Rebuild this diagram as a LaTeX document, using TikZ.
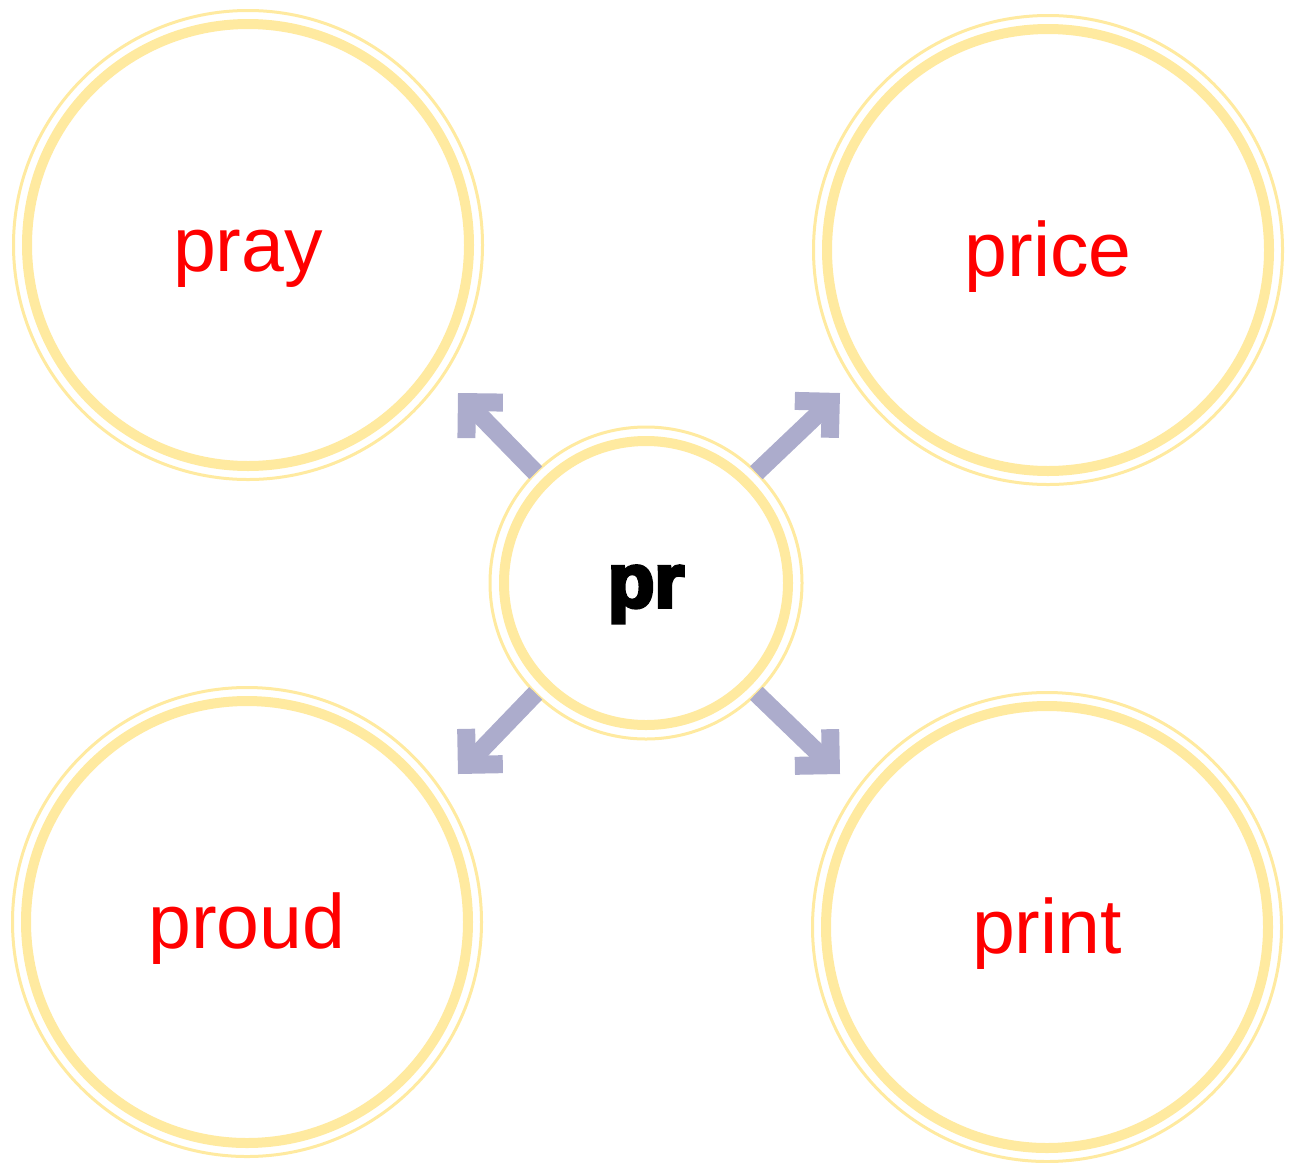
\documentclass[tikz,border=0pt]{standalone}
\usepackage{fontspec}
\setmainfont{Liberation Sans}
\newfontfamily\heavyfont{Liberation Sans Bold}[FakeBold=5]
\usetikzlibrary{arrows.meta}
\definecolor{ring}{RGB}{255,234,160}
\definecolor{lilac}{RGB}{172,172,204}
\definecolor{wordred}{RGB}{255,0,0}

\begin{document}
\begin{tikzpicture}[x=0.5pt,y=-0.5pt,
  word/.style={circle, draw=ring, line width=5pt, fill=white, minimum size=221pt,
    inner sep=0pt, text=wordred, font=\fontsize{38.5}{46}\selectfont,
    text height=26.5pt, text depth=0pt},
  hub/.style={circle, draw=ring, line width=5pt, fill=white, minimum size=142pt,
    inner sep=0pt, outer sep=7pt, font=\heavyfont\fontsize{38}{46}\selectfont,
    text height=24pt, text depth=0pt},
  halo/.style={draw=ring, line width=1.5pt},
  spoke/.style={lilac, line width=9pt, -{Straight Barb[angle=90:18pt, sharp]}}]
  \useasboundingbox (0,0) rectangle (1289,1162);
  %% Word circles
  \node[word] (pray)  at (248,245)  {pray};
  \node[word] (price) at (1048,250) {price};
  \node[word] (proud) at (247,922)  {proud};
  \node[word] (print) at (1047,927) {print};
  %% Middle circle
  \node[hub] (pr) at (646,583) {pr};
  %% Thin outer rings
  \foreach \n in {pray,price,proud,print}
    \draw[halo] (\n.center) circle (117.25pt);
  \draw[halo] (pr.center) circle (78pt);
  %% Arrow tips
  \coordinate (tipA) at (458,393);
  \coordinate (tipB) at (840,393);
  \coordinate (tipC) at (458,774);
  \coordinate (tipD) at (840,774);
  %% Arrows out of the middle
  \draw[spoke] (pr.135) -- (tipA);
  \draw[spoke] (pr.45)  -- (tipB);
  \draw[spoke] (pr.225) -- (tipC);
  \draw[spoke] (pr.-45) -- (tipD);
\end{tikzpicture}
\end{document}
